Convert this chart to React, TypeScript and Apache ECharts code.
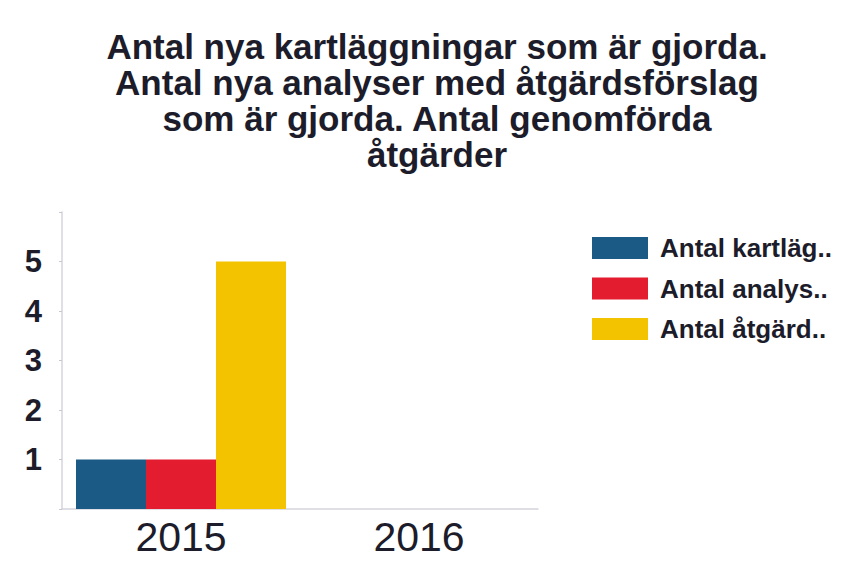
import React, { useEffect, useRef } from "react";
import * as echarts from "echarts";

const titleLines = [
  "Antal nya kartläggningar som är gjorda.",
  "Antal nya analyser med åtgärdsförslag",
  "som är gjorda. Antal genomförda",
  "åtgärder",
];
const categories = ["2015", "2016"];
const seriesNames = ["Antal kartläggningar", "Antal analyser", "Antal åtgärder"];
const legendLabels = ["Antal kartläg..", "Antal analys..", "Antal åtgärd.."];
const kartlaggningar = [1, null];
const analyser = [1, null];
const atgarder = [5, null];
const colors = ["#1b5a85", "#e31d2f", "#f4c300"];

const FONT = "Liberation Sans, Arial, sans-serif";

export default function App() {
  const ref = useRef<HTMLDivElement>(null);
  useEffect(() => {
    if (!ref.current) return;
    const chart = echarts.init(ref.current, undefined, { renderer: "svg" });
    const values = [kartlaggningar, analyser, atgarder];
    chart.setOption({
      animation: false,
      backgroundColor: "#ffffff",
      title: {
        text: titleLines.join("\n"),
        left: 432,
        textAlign: "center",
        top: 23,
        textStyle: {
          fontFamily: FONT,
          fontSize: 35,
          fontWeight: "bold",
          color: "#1c1c2a",
          lineHeight: 36,
        },
      },
      legend: {
        orient: "vertical",
        left: 587,
        top: 230,
        itemWidth: 56,
        itemHeight: 22,
        itemGap: 14.5,
        icon: "rect",
        data: seriesNames,
        formatter: (name: string) => legendLabels[seriesNames.indexOf(name)],
        textStyle: {
          fontFamily: FONT,
          fontSize: 26,
          fontWeight: "bold",
          color: "#1c1c2a",
          lineHeight: 22,
          padding: [0, 0, 0, 7],
        },
      },
      grid: { left: 62, top: 212, width: 476, height: 297, containLabel: false },
      xAxis: {
        type: "category",
        data: categories,
        axisLine: { lineStyle: { color: "#d4d4dc", width: 1.5 } },
        axisTick: { show: false },
        axisLabel: {
          margin: 7,
          fontFamily: FONT,
          fontSize: 41,
          color: "#1c1c2a",
        },
      },
      yAxis: {
        type: "value",
        min: 0,
        max: 6,
        interval: 1,
        axisLine: { show: true, lineStyle: { color: "#d4d4dc", width: 1.5 } },
        axisTick: { show: true, length: 3, lineStyle: { color: "#c8c8d0" } },
        splitLine: { show: false },
        axisLabel: {
          margin: 20,
          fontFamily: FONT,
          fontSize: 31,
          fontWeight: "bold",
          color: "#1c1c2a",
          formatter: (v: number) => (v === 0 || v === 6 ? "" : String(v)),
        },
      },
      series: seriesNames.map((n, i) => ({
        name: n,
        type: "bar",
        data: values[i],
        barWidth: 70,
        barGap: "0%",
        itemStyle: { color: colors[i] },
      })),
    });
    return () => chart.dispose();
  }, []);
  return (
    <div
      ref={ref}
      style={{ position: "fixed", left: 0, top: 0, width: 859, height: 571 }}
    />
  );
}
